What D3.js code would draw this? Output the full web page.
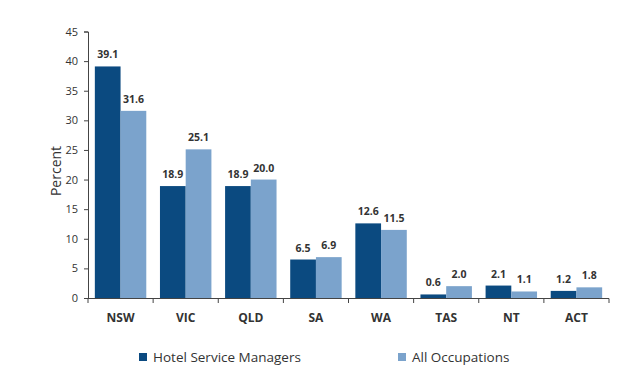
<!DOCTYPE html>
<html><head><meta charset="utf-8">
<script src="https://cdn.jsdelivr.net/npm/d3@7"></script>
<style>body{margin:0;background:#fff}svg{display:block}</style>
</head><body>
<svg id="c" width="640" height="380"></svg>
<script>
const categories = ["NSW","VIC","QLD","SA","WA","TAS","NT","ACT"];
const seriesNames = ["Hotel Service Managers","All Occupations"];
const hotelValues = [39.1,18.9,18.9,6.5,12.6,0.6,2.1,1.2];
const allOccValues = [31.6,25.1,20.0,6.9,11.5,2.0,1.1,1.8];
const yTicks = [0,5,10,15,20,25,30,35,40,45];
const colors = ["#0b4a80","#7ba3cc"];

const svg = d3.select("#c");
const font = "'Open Sans', 'Noto Sans', sans-serif";
const x0 = d3.scaleBand().domain(categories).range([88,609]).paddingInner(0.21).paddingOuter(0.105);
const x1 = d3.scaleBand().domain(seriesNames).range([0,x0.bandwidth()]);
const y = d3.scaleLinear().domain([0,45]).range([298,31.5]);

const data = categories.map((c,i)=>({cat:c, vals:[hotelValues[i],allOccValues[i]]}));

const g = svg.append("g");
const grp = g.selectAll("g.grp").data(data).join("g").attr("transform",d=>`translate(${x0(d.cat)},0)`);
grp.selectAll("rect").data(d=>d.vals.map((v,j)=>({v,s:seriesNames[j],j})))
  .join("rect")
  .attr("x",d=>x1(d.s)).attr("width",x1.bandwidth())
  .attr("y",d=>y(d.v)).attr("height",d=>y(0)-y(d.v))
  .attr("fill",d=>colors[d.j]);
grp.selectAll("text").data(d=>d.vals.map((v,j)=>({v,s:seriesNames[j],j})))
  .join("text")
  .attr("x",d=>x1(d.s)+x1.bandwidth()/2).attr("y",d=>y(d.v)-8)
  .attr("text-anchor","middle").attr("font-family",font).attr("font-size",10.5).attr("font-weight","bold")
  .attr("fill","#333").text(d=>d.v.toFixed(1));

// Y axis
const yAxis = d3.axisLeft(y).tickValues(yTicks).tickSize(4).tickPadding(6);
const ya = svg.append("g").attr("transform","translate(88,0)").call(yAxis);
ya.select(".domain").attr("stroke","#444");
ya.selectAll(".tick line").attr("stroke","#444");
ya.selectAll("text").attr("font-family",font).attr("font-size",11).attr("fill","#333");

// X axis with ticks at band boundaries
svg.append("line").attr("x1",88).attr("x2",609).attr("y1",298.5).attr("y2",298.5).attr("stroke","#444");
const bounds = categories.map(c=>x0(c)-x0.step()*x0.paddingInner()/2);
bounds.push(609);
bounds[0]=88;
svg.selectAll("line.xt").data(bounds).join("line").attr("class","xt")
  .attr("x1",d=>d).attr("x2",d=>d).attr("y1",298.5).attr("y2",303).attr("stroke","#444");
svg.selectAll("text.xl").data(categories).join("text").attr("class","xl")
  .attr("x",d=>x0(d)+x0.bandwidth()/2).attr("y",322)
  .attr("text-anchor","middle").attr("font-family",font).attr("font-size",12).attr("font-weight","bold")
  .attr("fill","#333").text(d=>d);

// Y label
svg.append("text").attr("transform","translate(61,171) rotate(-90)")
  .attr("text-anchor","middle").attr("font-family",font).attr("font-size",14).attr("fill","#333").text("Percent");

// Legend
const legX = [139,398];
seriesNames.forEach((n,i)=>{
  svg.append("rect").attr("x",legX[i]).attr("y",353).attr("width",8).attr("height",8).attr("fill",colors[i]);
  svg.append("text").attr("x",legX[i]+14).attr("y",362).attr("font-family",font).attr("font-size",13.5)
    .attr("fill","#333").text(n);
});
</script>
</body></html>
